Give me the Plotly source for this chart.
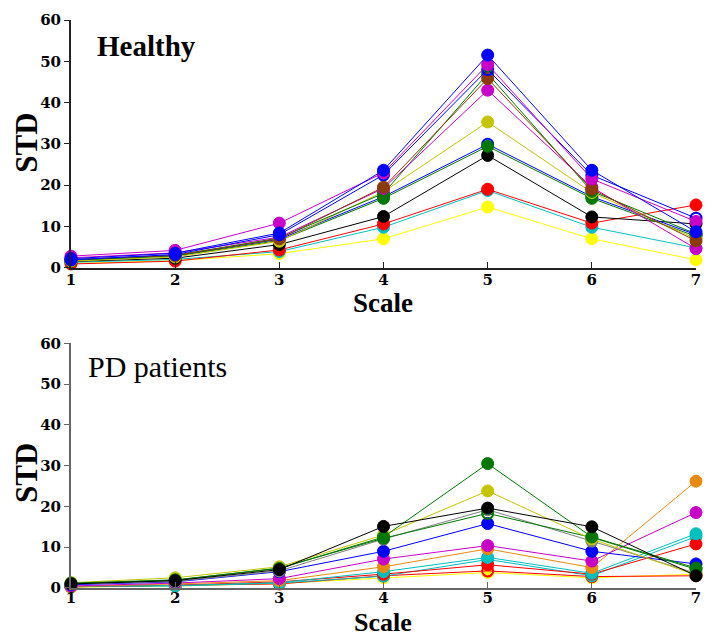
import plotly.graph_objects as go

scales = [1, 2, 3, 4, 5, 6, 7]
x_ticks = [1, 2, 3, 4, 5, 6, 7]
y_ticks = [0, 10, 20, 30, 40, 50, 60]

# Healthy subjects: STD per scale
h_yellow = [1.0, 1.7, 3.4, 7.0, 14.7, 7.0, 1.9]
h_cyan = [1.3, 2.0, 3.9, 9.8, 18.7, 9.8, 4.8]
h_red = [0.9, 1.6, 4.3, 10.6, 19.0, 10.8, 15.2]
h_black = [1.5, 2.3, 5.6, 12.4, 27.2, 12.3, 10.6]
h_green1 = [1.7, 2.8, 6.6, 16.8, 29.4, 16.8, 7.6]
h_blue_open2 = [1.8, 2.9, 6.9, 17.2, 29.9, 17.2, 8.0]
h_olive = [1.6, 2.6, 6.4, 18.4, 35.3, 18.2, 7.0]
h_green2 = [1.9, 3.0, 7.2, 18.0, 47.0, 18.5, 8.2]
h_magenta2 = [2.4, 3.6, 7.4, 19.2, 43.0, 19.5, 4.6]
h_brown = [2.0, 3.0, 7.0, 19.5, 45.8, 19.0, 6.5]
h_blue_open1 = [1.9, 3.2, 8.0, 22.5, 48.0, 22.4, 12.0]
h_magenta1 = [2.8, 4.2, 10.8, 23.0, 49.2, 21.5, 11.2]
h_blue = [2.2, 3.5, 8.4, 23.6, 51.5, 23.6, 8.7]

# PD patients: STD per scale
p_yellow = [0.2, 0.5, 1.1, 2.5, 3.8, 2.5, 3.4]
p_red_open = [0.3, 0.6, 1.0, 3.0, 4.2, 2.8, 3.0]
p_cyan_open = [0.3, 0.5, 1.2, 2.9, 7.0, 3.0, 12.6]
p_red = [0.3, 0.7, 1.5, 3.4, 5.7, 3.4, 10.8]
p_cyan = [0.4, 0.6, 1.3, 4.0, 7.5, 3.6, 13.3]
p_orange = [0.4, 1.0, 1.8, 5.2, 9.6, 5.0, 26.2]
p_magenta = [0.5, 1.2, 2.3, 7.1, 10.4, 6.6, 18.5]
p_blue = [0.8, 1.5, 4.0, 9.0, 15.8, 9.0, 5.9]
p_grey = [1.0, 1.6, 4.2, 12.0, 19.2, 11.5, 3.6]
p_green_open = [1.1, 1.9, 4.9, 12.2, 18.3, 12.4, 4.6]
p_olive = [1.3, 2.5, 5.2, 13.0, 23.8, 12.0, 3.2]
p_green = [1.2, 2.0, 4.8, 12.5, 30.5, 12.5, 4.9]
p_black = [1.0, 1.8, 4.5, 15.1, 19.6, 15.0, 3.0]

BLUE = "#0000ff"
MAG = "#c800c8"
BROWN = "#8c3a0a"
GREEN = "#007800"
OLIVE = "#c4c400"
BLACK = "#000000"
RED = "#ff0000"
CYAN = "#00c0c0"
YELLOW = "#ffff00"
ORANGE = "#e88a10"
GREY = "#808080"

healthy = [
    (h_yellow, YELLOW, False), (h_cyan, CYAN, False), (h_red, RED, False),
    (h_black, BLACK, False), (h_blue_open2, BLUE, True), (h_green1, GREEN, False),
    (h_olive, OLIVE, False), (h_green2, GREEN, False), (h_magenta2, MAG, False),
    (h_brown, BROWN, False), (h_blue_open1, BLUE, True), (h_magenta1, MAG, False),
    (h_blue, BLUE, False),
]
pd_series = [
    (p_yellow, YELLOW, False), (p_red_open, RED, True), (p_cyan_open, CYAN, True),
    (p_red, RED, False), (p_cyan, CYAN, False), (p_orange, ORANGE, False),
    (p_magenta, MAG, False), (p_blue, BLUE, False), (p_grey, GREY, True),
    (p_green_open, GREEN, True), (p_olive, OLIVE, False), (p_green, GREEN, False),
    (p_black, BLACK, False),
]

fig = go.Figure()

def add(series, xa, ya):
    for vals, col, hollow in series:
        fig.add_trace(go.Scatter(
            x=scales, y=vals, mode="lines+markers", xaxis=xa, yaxis=ya,
            line=dict(color=col, width=1),
            marker=dict(symbol="circle-open" if hollow else "circle",
                        size=12 if not hollow else 11, color=col,
                        line=dict(color=col, width=2 if hollow else 1)),
            cliponaxis=False, showlegend=False, hoverinfo="skip"))

add(healthy, "x", "y")
add(pd_series, "x2", "y2")

FONT = "Liberation Serif"
tickfont = dict(family="DejaVu Serif", size=15, color="black", weight="bold")

def xaxis(anchor, col, standoff):
    return dict(anchor=anchor, domain=[0, 1], range=[1, 7], tickvals=x_ticks,
                ticktext=[str(v) for v in x_ticks], showgrid=False, zeroline=False,
                showline=True, linecolor=col, linewidth=2, ticks="inside",
                ticklen=6, tickcolor=col, tickwidth=1, tickfont=tickfont,
                ticklabelstandoff=standoff)

def yaxis(anchor, dom, col):
    return dict(anchor=anchor, domain=dom, range=[0, 60], tickvals=y_ticks,
                ticktext=[str(v) for v in y_ticks], showgrid=False, zeroline=False,
                showline=True, linecolor=col, linewidth=2, ticks="outside",
                ticklen=5, tickcolor=col, tickwidth=1, tickfont=tickfont)

fig.update_layout(
    width=712, height=639,
    margin=dict(l=71, r=11, t=17, b=51),
    plot_bgcolor="white", paper_bgcolor="white",
    xaxis=xaxis("y", "#222222", -3),
    yaxis=yaxis("x", [0.5639, 1.0], "#222222"),
    xaxis2=xaxis("y2", "#666666", -5),
    yaxis2=yaxis("x2", [0.0, 0.4308], "#666666"),
)

def ann(text, x, y, size, bold=True, angle=0, xanchor="center", yanchor="middle"):
    fig.add_annotation(
        text=("<b>%s</b>" % text) if bold else text, x=x, y=y,
        xref="paper", yref="paper", xanchor=xanchor, yanchor=yanchor,
        showarrow=False, textangle=angle, borderpad=0,
        font=dict(family=FONT, size=size, color="black"))

H = 571.0
def py(pix):
    return (588 - pix) / H
def px(pix):
    return (pix - 71) / 630.0

ann("Healthy", px(96), py(43), 29, bold=True, xanchor="left")
ann("PD patients", px(87), py(365), 30, bold=False, xanchor="left")
ann("Scale", px(385), py(318), 27, yanchor="bottom")
ann("Scale", px(385), py(638), 26, yanchor="bottom")
ann("STD", px(26), py(140), 31, angle=-90)
ann("STD", px(26), py(472), 31, angle=-90)

fig.write_html(
    "out.html",
    config={"displayModeBar": False},
    post_script="document.body.style.margin='0px';document.body.style.overflow='hidden';",
)
